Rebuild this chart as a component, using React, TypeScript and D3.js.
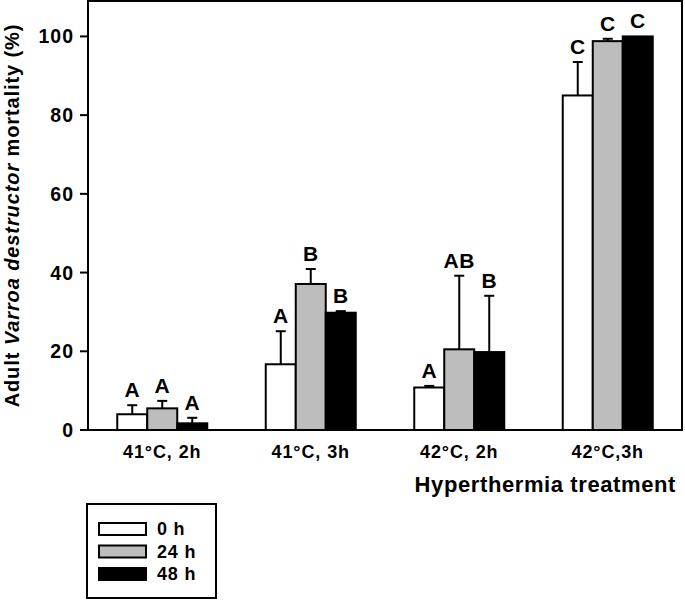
import React from "react";
import * as d3 from "d3";

const treatments = ["41°C, 2h", "41°C, 3h", "42°C, 2h", "42°C,3h"];
const series = ["0 h", "24 h", "48 h"];
const fills = ["#ffffff", "#bdbdbd", "#000000"];

// mean mortality (%) per treatment, one array per time
const mean0h = [4.0, 16.7, 10.8, 85.0];
const mean24h = [5.5, 37.1, 20.5, 98.8];
const mean48h = [1.7, 29.8, 19.8, 100];

// top of the error bar
const err0h = [6.3, 25.1, 11.2, 93.5];
const err24h = [7.4, 40.9, 39.2, 99.4];
const err48h = [3.1, 30.2, 34.1, 100];

const letters0h = ["A", "A", "A", "C"];
const letters24h = ["A", "B", "AB", "C"];
const letters48h = ["A", "B", "B", "C"];

const yTicks = [0, 20, 40, 60, 80, 100];

const means = [mean0h, mean24h, mean48h];
const errs = [err0h, err24h, err48h];
const letters = [letters0h, letters24h, letters48h];

const font = "'Liberation Sans', Arial, sans-serif";

export default function App() {
  const width = 685;
  const height = 600;
  const left = 88;
  const right = 682;
  const top = 1;
  const bottom = 430;

  const x = d3.scaleBand().domain(treatments).range([left, right]);
  const inner = d3.scaleBand().domain(series).range([0, 90]);
  const y = d3.scaleLinear().domain([0, 109]).range([bottom, top]);

  const barX = (ti: number, si: number) =>
    x(treatments[ti])! + x.bandwidth() / 2 - 45 + inner(series[si])!;

  return (
    <svg
      width={width}
      height={height}
      style={{ position: "absolute", left: 0, top: 0 }}
      fontFamily={font}
      fontWeight="bold"
    >
      {/* bars, error bars and letters */}
      {series.map((s, si) =>
        treatments.map((t, ti) => {
          const bx = barX(ti, si);
          const bw = inner.bandwidth();
          const cx = bx + bw / 2;
          const v = means[si][ti];
          const e = errs[si][ti];
          return (
            <g key={s + t}>
              {e > v && (
                <>
                  <line x1={cx} x2={cx} y1={y(v)} y2={y(e)} stroke="#000" strokeWidth={2} />
                  <line x1={cx - 5} x2={cx + 5} y1={y(e)} y2={y(e)} stroke="#000" strokeWidth={2} />
                </>
              )}
              <rect
                x={bx}
                y={y(v)}
                width={bw}
                height={y(0) - y(v)}
                fill={fills[si]}
                stroke="#000"
                strokeWidth={2}
              />
              <text
                x={cx}
                y={y(Math.max(v, e)) - 8}
                textAnchor="middle"
                fontSize={21}
                letterSpacing={0.5}
              >
                {letters[si][ti]}
              </text>
            </g>
          );
        })
      )}

      {/* frame */}
      <rect
        x={left}
        y={top}
        width={right - left}
        height={bottom - top}
        fill="none"
        stroke="#000"
        strokeWidth={2}
      />

      {/* y axis */}
      {yTicks.map((t) => (
        <g key={t}>
          <line x1={left - 8} x2={left} y1={y(t)} y2={y(t)} stroke="#000" strokeWidth={2} />
          <text
            x={left - 14}
            y={y(t)}
            dy="0.36em"
            textAnchor="end"
            fontSize={19.5}
            letterSpacing={1}
          >
            {t}
          </text>
        </g>
      ))}
      <text
        transform={`translate(19,${(top + bottom) / 2}) rotate(-90)`}
        textAnchor="middle"
        fontSize={20}
        letterSpacing={0.9}
      >
        Adult <tspan fontStyle="italic">Varroa destructor</tspan> mortality (%)
      </text>

      {/* x axis */}
      {treatments.map((t) => (
        <text
          key={t}
          x={x(t)! + x.bandwidth() / 2}
          y={458}
          textAnchor="middle"
          fontSize={18}
          letterSpacing={0.9}
        >
          {t}
        </text>
      ))}
      <text x={676} y={492} textAnchor="end" fontSize={22} letterSpacing={0.6}>
        Hyperthermia treatment
      </text>

      {/* legend */}
      <rect x={87} y={504} width={129} height={94} fill="#fff" stroke="#000" strokeWidth={2} />
      {series.map((s, si) => (
        <g key={s} transform={`translate(99,${523 + si * 22.5})`}>
          <rect width={47} height={12} fill={fills[si]} stroke="#000" strokeWidth={2} />
          <text x={58} y={6} dy="0.36em" fontSize={18} letterSpacing={0.8}>
            {s}
          </text>
        </g>
      ))}
    </svg>
  );
}
